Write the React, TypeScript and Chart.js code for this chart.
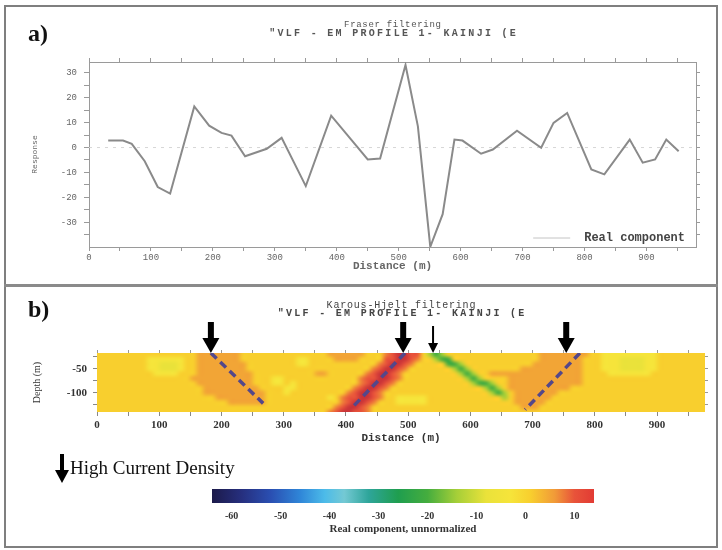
import React, { useEffect, useRef } from 'react';
import { Chart, registerables } from 'chart.js';

Chart.register(...registerables);

// ---------------- Panel a: Fraser filtered profile ----------------
const distanceM = [31, 55, 69, 90, 111, 131, 170, 194, 214, 230, 252, 287, 311, 350, 391, 450, 470, 511, 531, 551, 571, 590, 603, 633, 652, 691, 730, 750, 772, 811, 832, 873, 894, 914, 932, 952];
const realComponent = [2.8, 2.8, 1.5, -5.5, -15.9, -18.5, 16.5, 8.8, 5.9, 4.8, -3.5, -0.5, 3.9, -15.5, 12.8, -4.8, -4.4, 33.2, 8.5, -39.9, -26.8, 3.2, 2.8, -2.5, -0.8, 6.8, -0.1, 9.9, 13.9, -8.8, -10.8, 3.2, -6.1, -4.8, 3.2, -1.5];
const seriesName = 'Real component';
const distanceTicks = [0, 50, 100, 150, 200, 250, 300, 350, 400, 450, 500, 550, 600, 650, 700, 750, 800, 850, 900, 950];
const responseTicks = [-35, -30, -25, -20, -15, -10, -5, 0, 5, 10, 15, 20, 25, 30];
const titleA = 'Fraser filtering';
const subtitleText = '"VLF - EM PROFILE 1- KAINJI (E';

// ---------------- Panel b: Karous-Hjelt section ----------------
const titleB = 'Karous-Hjelt filtering';
const depthTicks = [-125, -100, -75, -50, -25];
const heatXStart = 0;
const heatXStep = 10;
const heatColumnCount = 98;
const heatDepths = [-20, -30, -40, -50, -60, -70, -80, -90, -100, -110, -120, -130, -140];
const heatLevels: Record<string, number> = { Y: 1, y: -3, l: -8, o: 5, O: 7.5, r: 10, R: 15.5, g: -14, G: -21 };
// run-length rows (char + count), one per depth, 10 m columns
const heatRows = [
  'Y16 o7 Y14 o6 Y3 O1 r1 R2 r2 Y1 g1 G1 g1 Y15 o8 Y2 y9 Y8',
  'Y8 y6 Y2 o7 Y9 y2 Y4 o4 Y4 r2 R2 r1 O1 Y2 g1 G2 Y14 o7 Y3 y3 l4 y2 Y8',
  'Y8 y2 l3 y1 Y2 o8 Y8 y2 Y11 O1 r1 R2 r1 O1 Y5 G2 g1 Y11 o8 Y3 y3 l4 y2 Y8',
  'Y8 y2 l3 y1 Y2 o8 Y20 O1 r1 R2 r1 O1 Y7 g1 G1 g1 Y8 o10 Y3 y3 l4 y2 Y8',
  'Y9 y4 Y3 o9 Y10 o2 Y6 O1 r1 R2 r1 O1 Y9 g1 G1 g1 Y2 o15 Y4 y7 Y9',
  'Y15 o10 Y3 y2 Y12 O1 r2 R2 r1 O1 Y10 g1 G1 g1 Y4 o12 Y20',
  'Y16 o9 Y3 y2 Y1 y1 Y10 O1 r1 R2 r1 O1 Y12 g1 G2 g1 Y2 o12 Y20',
  'Y17 o9 Y4 y2 Y9 O1 r1 R2 r1 O1 Y15 g1 G1 g1 Y1 o10 Y22',
  'Y17 o10 Y3 y1 Y9 O1 r1 R2 r1 O1 Y17 g1 G1 g1 Y1 o7 Y24',
  'Y19 o8 Y10 y1 Y1 O1 r2 R2 r1 O1 Y2 y5 Y12 g1 Y1 o6 Y25',
  'Y21 o6 Y12 O1 r1 R2 r1 O1 Y3 y5 Y14 o5 Y26',
  'Y38 O1 r1 R2 r1 O1 Y24 o3 Y27',
  'Y37 O1 r1 R2 r2 O1 Y54',
];
const dipLine1X = [183, 267];
const dipLine1Depth = [-17, -122];
const dipLine2X = [495, 412];
const dipLine2Depth = [-17, -128];
const dipLine3X = [776, 688];
const dipLine3Depth = [-17, -135];
const strongArrowX = [183, 492, 754];
const weakArrowX = [540];

// ---------------- Colour bar ----------------
const colorbarMin = -64;
const colorbarMax = 14;
const colorbarTicks = [-60, -50, -40, -30, -20, -10, 0, 10];
const colorbarTitle = 'Real component, unnormalized';
const cbStopValues = [-64, -58, -52, -46, -41, -37, -32, -26, -20, -14, -8, -3, 1, 6, 10, 14, 17];
const cbStopColors = ['#1c1a4a', '#262f7e', '#2a4fb2', '#2f86d8', '#4cbbe9', '#74c9d4', '#2ea59a', '#1f9e4f', '#45ad3e', '#a6cf38', '#eae23a', '#f6e43a', '#f8cf2e', '#f19a38', '#e8533a', '#e23b34', '#b02c3c'];

const MONO = '"Liberation Mono", "DejaVu Sans Mono", monospace';
const SERIF = '"Liberation Serif", "DejaVu Serif", serif';

function hexToRgb(h: string): number[] {
  const n = parseInt(h.slice(1), 16);
  return [(n >> 16) & 255, (n >> 8) & 255, n & 255];
}

function colorFor(v: number): number[] {
  if (v <= cbStopValues[0]) return hexToRgb(cbStopColors[0]);
  for (let i = 1; i < cbStopValues.length; i++) {
    if (v <= cbStopValues[i]) {
      const t = (v - cbStopValues[i - 1]) / (cbStopValues[i] - cbStopValues[i - 1]);
      const a = hexToRgb(cbStopColors[i - 1]);
      const b = hexToRgb(cbStopColors[i]);
      return a.map((c, k) => Math.round(c + (b[k] - c) * t));
    }
  }
  return hexToRgb(cbStopColors[cbStopColors.length - 1]);
}

function parseRow(row: string): number[] {
  const out: number[] = [];
  row.split(' ').forEach((tok) => {
    const ch = tok[0];
    const n = parseInt(tok.slice(1), 10);
    for (let i = 0; i < n; i++) out.push(heatLevels[ch]);
  });
  while (out.length < heatColumnCount) out.push(out[out.length - 1]);
  return out.slice(0, heatColumnCount);
}

function buildHeatImage(): HTMLCanvasElement {
  const rows = heatRows.map(parseRow);
  const off = document.createElement('canvas');
  off.width = heatColumnCount;
  off.height = rows.length;
  const c = off.getContext('2d')!;
  const img = c.createImageData(heatColumnCount, rows.length);
  rows.forEach((row, j) =>
    row.forEach((v, i) => {
      const [r, g, b] = colorFor(v);
      const k = (j * heatColumnCount + i) * 4;
      img.data[k] = r;
      img.data[k + 1] = g;
      img.data[k + 2] = b;
      img.data[k + 3] = 255;
    })
  );
  c.putImageData(img, 0, 0);
  return off;
}

const setTicks = (vals: number[]) => (scale: any) => {
  scale.ticks = vals.map((v) => ({ value: v }));
};

// two-line letter-spaced titles centred over the plot area
const spacedTitlePlugin = {
  id: 'spacedTitles',
  afterDraw(chart: any, _args: any, opts: any) {
    const { ctx, chartArea } = chart;
    const cx = (chartArea.left + chartArea.right) / 2;
    (opts.lines || []).forEach((line: any) => {
      ctx.save();
      ctx.font = line.font;
      ctx.fillStyle = line.color;
      try { (ctx as any).letterSpacing = `${line.spacing}px`; } catch (e) { /* ignore */ }
      ctx.textAlign = 'center';
      ctx.textBaseline = 'middle';
      ctx.fillText(line.text, cx + line.spacing / 2, chartArea.top + line.dy);
      ctx.restore();
    });
  },
};

const legendInsidePlugin = {
  id: 'legendInside',
  afterDraw(chart: any) {
    const { ctx, chartArea } = chart;
    ctx.save();
    ctx.font = `bold 12px ${MONO}`;
    const w = ctx.measureText(seriesName).width;
    const tx = chartArea.right - 11 - w;
    const ty = chartArea.bottom - 9;
    ctx.strokeStyle = '#c4c4c4';
    ctx.lineWidth = 1;
    ctx.beginPath();
    ctx.moveTo(tx - 51, ty);
    ctx.lineTo(tx - 14, ty);
    ctx.stroke();
    ctx.fillStyle = '#444';
    ctx.textBaseline = 'middle';
    ctx.textAlign = 'left';
    ctx.fillText(seriesName, tx, ty);
    ctx.restore();
  },
};

function makeHeatmapPlugin() {
  const img = buildHeatImage();
  return {
    id: 'heatmap',
    beforeDatasetsDraw(chart: any) {
      const { ctx, chartArea: a, scales } = chart;
      const x0 = scales.x.getPixelForValue(heatXStart);
      const x1 = scales.x.getPixelForValue(heatXStart + heatColumnCount * heatXStep);
      const half = (heatDepths[0] - heatDepths[1]) / 2;
      const y0 = scales.y.getPixelForValue(heatDepths[0] + half);
      const y1 = scales.y.getPixelForValue(heatDepths[heatDepths.length - 1] - half);
      ctx.save();
      ctx.beginPath();
      ctx.rect(a.left, a.top, a.right - a.left, a.bottom - a.top);
      ctx.clip();
      ctx.imageSmoothingEnabled = true;
      ctx.imageSmoothingQuality = 'high';
      ctx.drawImage(img, x0, y0, x1 - x0, y1 - y0);
      ctx.restore();
    },
  };
}

const arrowPlugin = {
  id: 'currentArrows',
  afterDraw(chart: any) {
    const { ctx, chartArea, scales } = chart;
    const tip = chartArea.top;
    ctx.save();
    ctx.fillStyle = '#000';
    const tri = (px: number, w: number, h: number) => {
      ctx.beginPath();
      ctx.moveTo(px - w / 2, tip - h);
      ctx.lineTo(px + w / 2, tip - h);
      ctx.lineTo(px, tip);
      ctx.closePath();
      ctx.fill();
    };
    strongArrowX.forEach((v) => {
      const px = scales.x.getPixelForValue(v);
      ctx.fillRect(px - 3, tip - 31, 6, 18);
      tri(px, 17, 15);
    });
    weakArrowX.forEach((v) => {
      const px = scales.x.getPixelForValue(v);
      ctx.fillRect(px - 1, tip - 27, 2, 19);
      tri(px, 10, 10);
    });
    ctx.restore();
  },
};

export default function App() {
  const refA = useRef<HTMLCanvasElement>(null);
  const refB = useRef<HTMLCanvasElement>(null);
  const refC = useRef<HTMLCanvasElement>(null);

  useEffect(() => {
    const grayA = '#666';
    const axisGray = '#9a9a9a';

    const chartA = new Chart(refA.current!, {
      type: 'scatter',
      data: {
        datasets: [
          {
            label: seriesName,
            data: distanceM.map((d, i) => ({ x: d, y: realComponent[i] })),
            showLine: true,
            borderColor: '#8a8a8a',
            borderWidth: 2,
            pointRadius: 0,
            order: 1,
          },
          {
            label: 'zero',
            data: [{ x: 0, y: 0 }, { x: 980, y: 0 }],
            showLine: true,
            borderColor: '#d6d6d6',
            borderWidth: 1,
            borderDash: [3, 5],
            pointRadius: 0,
            order: 2,
          },
        ],
      },
      options: {
        animation: false,
        responsive: false,
        events: [],
        layout: { padding: { left: 23, right: 14, top: 49, bottom: 11 } },
        plugins: {
          legend: { display: false },
          tooltip: { enabled: false },
          title: { display: false },
          spacedTitles: {
            lines: [
              { text: titleA, font: `9px ${MONO}`, color: '#555', spacing: 0.7, dy: -37 },
              { text: subtitleText, font: `bold 10px ${MONO}`, color: '#555', spacing: 2.3, dy: -29 },
            ],
          },
        },
        scales: {
          x: {
            type: 'linear',
            position: 'bottom',
            min: 0,
            max: 980,
            afterBuildTicks: setTicks(distanceTicks),
            afterFit: (s: any) => { s.height = 26; },
            ticks: {
              color: grayA,
              padding: 1,
              maxRotation: 0,
              autoSkip: false,
              font: { family: MONO, size: 9 },
              callback: (v: any) => (v % 100 === 0 ? String(v) : ''),
            },
            grid: { drawOnChartArea: false, tickLength: 4, tickColor: axisGray },
            border: { color: axisGray },
            title: {
              display: true,
              text: 'Distance (m)',
              color: grayA,
              padding: { top: 0, bottom: 0 },
              font: { family: MONO, size: 11, weight: 'bold', lineHeight: 1.2 },
            },
          },
          x2: {
            type: 'linear',
            position: 'top',
            min: 0,
            max: 980,
            afterBuildTicks: setTicks(distanceTicks),
            afterFit: (s: any) => { s.height = 6; },
            ticks: { display: false },
            grid: { drawOnChartArea: false, tickLength: 4, tickColor: axisGray },
            border: { color: axisGray },
          },
          y: {
            type: 'linear',
            position: 'left',
            min: -40,
            max: 34.4,
            afterBuildTicks: setTicks(responseTicks),
            afterFit: (s: any) => { s.width = 60; },
            ticks: {
              color: grayA,
              padding: 7,
              autoSkip: false,
              font: { family: MONO, size: 9 },
              callback: (v: any) => (v % 10 === 0 ? String(v) : ''),
            },
            grid: { drawOnChartArea: false, tickLength: 5, tickColor: axisGray },
            border: { color: axisGray },
            title: {
              display: true,
              text: 'Response',
              color: grayA,
              padding: { top: 1, bottom: 0 },
              font: { family: MONO, size: 8, lineHeight: 1.2 },
            },
          },
          y2: {
            type: 'linear',
            position: 'right',
            min: -40,
            max: 34.4,
            afterBuildTicks: setTicks(responseTicks),
            afterFit: (s: any) => { s.width = 6; },
            ticks: { display: false },
            grid: { drawOnChartArea: false, tickLength: 4, tickColor: axisGray },
            border: { color: axisGray },
          },
        },
      } as any,
      plugins: [legendInsidePlugin, spacedTitlePlugin],
    });

    const darkText = '#333';
    const dashColor = '#54478a';
    const dipLine = (xs: number[], ds: number[]) => ({
      data: xs.map((x, i) => ({ x, y: ds[i] })),
      showLine: true,
      borderColor: dashColor,
      borderWidth: 3.5,
      borderDash: [8, 5],
      pointRadius: 0,
    });

    const chartB = new Chart(refB.current!, {
      type: 'scatter',
      data: {
        datasets: [
          dipLine(dipLine1X, dipLine1Depth),
          dipLine(dipLine2X, dipLine2Depth),
          dipLine(dipLine3X, dipLine3Depth),
        ],
      },
      options: {
        animation: false,
        responsive: false,
        events: [],
        layout: { padding: { left: 21, right: 6, top: 59, bottom: 7.4 } },
        plugins: {
          legend: { display: false },
          tooltip: { enabled: false },
          title: { display: false },
          spacedTitles: {
            lines: [
              { text: titleB, font: `10px ${MONO}`, color: '#444', spacing: 0.8, dy: -48 },
              { text: subtitleText, font: `bold 10px ${MONO}`, color: '#444', spacing: 2.3, dy: -40 },
            ],
          },
        },
        scales: {
          x: {
            type: 'linear',
            position: 'bottom',
            min: 0,
            max: 977,
            afterBuildTicks: setTicks(distanceTicks),
            afterFit: (s: any) => { s.height = 32.6; },
            ticks: {
              color: darkText,
              padding: 3,
              maxRotation: 0,
              autoSkip: false,
              font: { family: SERIF, size: 11, weight: 'bold' },
              callback: (v: any) => (v % 100 === 0 ? String(v) : ''),
            },
            grid: { drawOnChartArea: false, tickLength: 4, tickColor: '#888' },
            border: { display: false },
            title: {
              display: true,
              text: 'Distance (m)',
              color: darkText,
              padding: { top: 0, bottom: 0 },
              font: { family: MONO, size: 11, weight: 'bold', lineHeight: 1.2 },
            },
          },
          x2: {
            type: 'linear',
            position: 'top',
            min: 0,
            max: 977,
            afterBuildTicks: setTicks(distanceTicks),
            afterFit: (s: any) => { s.height = 6; },
            ticks: { display: false },
            grid: { drawOnChartArea: false, tickLength: 3, tickColor: '#999' },
            border: { display: false },
          },
          y: {
            type: 'linear',
            position: 'left',
            min: -140,
            max: -17,
            afterBuildTicks: setTicks(depthTicks),
            afterFit: (s: any) => { s.width = 70; },
            ticks: {
              color: darkText,
              padding: 6,
              autoSkip: false,
              font: { family: SERIF, size: 11, weight: 'bold' },
              callback: (v: any) => (v % 50 === 0 ? String(v) : ''),
            },
            grid: { drawOnChartArea: false, tickLength: 4, tickColor: '#888' },
            border: { display: false },
            title: {
              display: true,
              text: 'Depth (m)',
              color: darkText,
              padding: { top: 4, bottom: 0 },
              font: { family: SERIF, size: 10, lineHeight: 1.2 },
            },
          },
          y2: {
            type: 'linear',
            position: 'right',
            min: -140,
            max: -17,
            afterBuildTicks: setTicks(depthTicks),
            afterFit: (s: any) => { s.width = 5; },
            ticks: { display: false },
            grid: { drawOnChartArea: false, tickLength: 3, tickColor: '#999' },
            border: { display: false },
          },
        },
      } as any,
      plugins: [makeHeatmapPlugin(), arrowPlugin, spacedTitlePlugin],
    });

    const chartC = new Chart(refC.current!, {
      type: 'bar',
      data: {
        labels: [''],
        datasets: [
          {
            data: [[colorbarMin, colorbarMax]] as any,
            borderWidth: 0,
            barPercentage: 1,
            categoryPercentage: 1,
            backgroundColor: (ctx: any) => {
              const chart = ctx.chart;
              const xs = chart.scales && chart.scales.x;
              if (!chart.chartArea || !xs) return '#f8cf2e';
              const p0 = xs.getPixelForValue(cbStopValues[0]);
              const p1 = xs.getPixelForValue(cbStopValues[cbStopValues.length - 1]);
              const g = chart.ctx.createLinearGradient(p0, 0, p1, 0);
              const span = cbStopValues[cbStopValues.length - 1] - cbStopValues[0];
              cbStopValues.forEach((v, i) => g.addColorStop((v - cbStopValues[0]) / span, cbStopColors[i]));
              return g;
            },
          },
        ],
      },
      options: {
        animation: false,
        responsive: false,
        events: [],
        indexAxis: 'y',
        layout: { padding: { left: 42, right: 110, top: 11, bottom: 3.8 } },
        plugins: {
          legend: { display: false },
          tooltip: { enabled: false },
          title: {
            display: true,
            position: 'bottom',
            text: colorbarTitle,
            color: darkText,
            padding: { top: 0, bottom: 0 },
            font: { family: SERIF, size: 11, weight: 'bold', lineHeight: 1.2 },
          },
        },
        scales: {
          x: {
            type: 'linear',
            min: colorbarMin,
            max: colorbarMax,
            afterBuildTicks: setTicks(colorbarTicks),
            afterFit: (s: any) => { s.height = 20; },
            ticks: {
              color: darkText,
              padding: 7,
              maxRotation: 0,
              autoSkip: false,
              font: { family: SERIF, size: 10, weight: 'bold' },
            },
            grid: { display: false, drawTicks: false, tickLength: 0 },
            border: { display: false },
          },
          y: { display: false },
        },
      } as any,
    });

    return () => {
      chartA.destroy();
      chartB.destroy();
      chartC.destroy();
    };
  }, []);

  return (
    <div style={{ position: 'absolute', left: 0, top: 0, width: 722, height: 550, background: '#fff', overflow: 'hidden' }}>
      <div style={{ position: 'absolute', left: 4, top: 5, width: 714, height: 543, border: '2px solid #7f7f7f', boxSizing: 'border-box' }} />
      <div style={{ position: 'absolute', left: 4, top: 284, width: 714, height: 3, background: '#8a8a8a' }} />
      <canvas ref={refA} width={710} height={277} style={{ position: 'absolute', left: 6, top: 7, width: 710, height: 277 }} />
      <canvas ref={refB} width={710} height={164} style={{ position: 'absolute', left: 6, top: 288, width: 710, height: 164 }} />
      <canvas ref={refC} width={534} height={62} style={{ position: 'absolute', left: 170, top: 478, width: 534, height: 62 }} />
      <div style={{ position: 'absolute', left: 28, top: 20, font: `bold 24px ${SERIF}`, lineHeight: '26px', color: '#111' }}>a)</div>
      <div style={{ position: 'absolute', left: 28, top: 296, font: `bold 24px ${SERIF}`, lineHeight: '26px', color: '#111' }}>b)</div>
      <svg width={14} height={30} style={{ position: 'absolute', left: 55, top: 454 }}>
        <rect x={5} y={0} width={4} height={18} fill="#000" />
        <polygon points="0,16 14,16 7,29" fill="#000" />
      </svg>
      <div style={{ position: 'absolute', left: 70, top: 455, font: `19px ${SERIF}`, lineHeight: '26px', color: '#111', whiteSpace: 'nowrap' }}>
        High Current Density
      </div>
    </div>
  );
}
